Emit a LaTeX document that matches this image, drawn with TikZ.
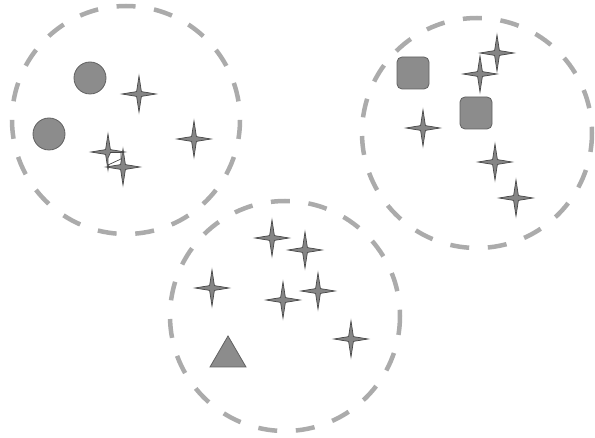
\documentclass[tikz,border=0pt]{standalone}
\begin{document}
\begin{tikzpicture}[x=1pt,y=-1pt,
  cluster/.style={draw=black!33, line width=4.5pt, dash pattern=on 19pt off 18.7pt},
  shapefill/.style={fill=black!45, draw=black!62, line width=0.8pt},
  starsty/.style={fill=black!48, draw=black!72, line width=0.7pt, line join=miter},
  sparkle/.pic={\filldraw[starsty] (17,0)--(2.4,2.4)--(0,18)--(-2.4,2.4)--(-17,0)--(-2.4,-2.4)--(0,-18)--(2.4,-2.4)--cycle;}
]
\useasboundingbox (0,0) rectangle (595,438);
% clusters
\draw[cluster] (126,120) circle (114);
\draw[cluster] (477,133) circle (115);
\draw[cluster] (285,316) circle (115);
% cluster 1
\draw[shapefill] (90,78) circle (16);
\draw[shapefill] (49,134) circle (16);
\pic at (139,94) {sparkle};
\pic at (194,139) {sparkle};
\pic at (108,152) {sparkle};
\pic at (123,167) {sparkle};
\filldraw[fill=white, draw=black!72, line width=0.7pt, line join=miter] (110.5,152.5)--(121,152.5)--(121,159)--(108,165)--(108,158)--cycle;
% cluster 2
\draw[shapefill, rounded corners=5pt] (397,57) rectangle (429,89);
\draw[shapefill, rounded corners=5pt] (460,97) rectangle (492,129);
\pic at (497,53) {sparkle};
\pic at (480,74) {sparkle};
\pic at (423,128) {sparkle};
\pic at (495,162) {sparkle};
\pic at (516,198) {sparkle};
% cluster 3
\pic at (272,238) {sparkle};
\pic at (305,250) {sparkle};
\pic at (212,288) {sparkle};
\pic at (283,300) {sparkle};
\pic at (318,291) {sparkle};
\pic at (351,339) {sparkle};
\draw[shapefill, line join=miter] (228,336)--(246,367)--(210,367)--cycle;
\end{tikzpicture}
\end{document}
